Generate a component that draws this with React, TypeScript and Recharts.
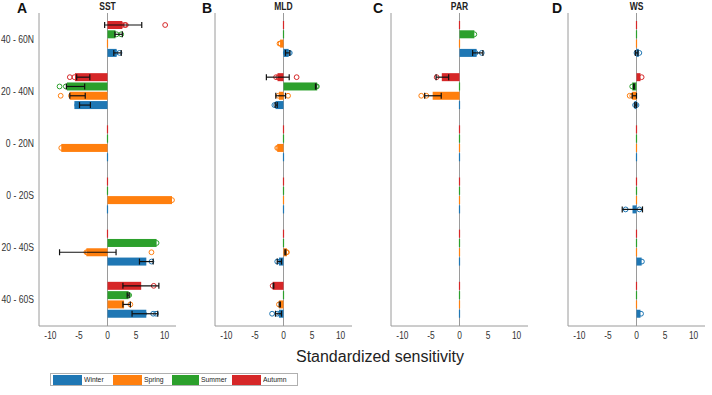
import React from 'react';
import { ComposedChart, Bar, XAxis, YAxis, ErrorBar, CartesianGrid } from 'recharts';

// ---------- data ----------
const regions = ['40 - 60N', '20 - 40N', '0 - 20N', '0 - 20S', '20 - 40S', '40 - 60S'];
const seasonNames = ['Winter', 'Spring', 'Summer', 'Autumn'];
const seasonKeys = ['winter', 'spring', 'summer', 'autumn'];
const seasonColors = ['#1f77b4', '#ff7f0e', '#2ca02c', '#d62728'];
const xTicks = [-10, -5, 0, 5, 10];
const xDomain = [-12, 12];
const panelLetters = ['A', 'B', 'C', 'D'];
const panelTitles = ['SST', 'MLD', 'PAR', 'WS'];
const xLabel = 'Standardized sensitivity';

// SST
const sstWinter = [1.6, -5.8, 0, 0, 6.8, 6.8];
const sstSpring = [0, -6.6, -8.1, 11.3, -3.7, 2.9];
const sstSummer = [1.4, -7.1, 0, 0, 8.6, 3.7];
const sstAutumn = [2.6, -5.7, 0, 0, 0, 5.9];
const sstWinterErr = [[1.1, 2.4], [-4.9, -3.0], null, null, [5.6, 8.0], [4.3, 8.8]];
const sstSpringErr = [null, [-6.6, -3.9], null, null, [-8.4, 1.5], [2.7, 4.0]];
const sstSummerErr = [[1.3, 2.6], [-7.2, -4.0], null, null, null, [3.45, 3.8]];
const sstAutumnErr = [[-0.5, 6.0], [-5.4, -3.1], null, null, null, [2.7, 9.0]];
const sstWinterPts = [[0.9, 1.4, 2.1], [-5.3, -4.5, -3.3, -2.1], [], [], [6.1, 7.7], [2.0, 6.4, 8.0, 8.5]];
const sstSpringPts = [[], [-8.2, -6.4, -5.0, -2.3], [-8.1], [11.3], [-3.7, -3.5, 7.7], [4.0]];
const sstSummerPts = [[1.6, 2.4], [-8.4, -7.3, -6.0, -4.5, -3.1], [], [], [8.6], [3.8, 3.6]];
const sstAutumnPts = [[1.5, 2.5, 3.0, 3.2, 10.1], [-6.6, -5.8, -4.9, -4.2, -3.5, -3.0], [], [], [], [8.1]];

// MLD
const mldWinter = [0.9, -1.4, 0, 0, -0.8, -0.8];
const mldSpring = [-0.6, -0.8, -1.1, 0, 0.6, -0.8];
const mldSummer = [0, 5.9, 0, 0, 0, 0];
const mldAutumn = [0, -1.05, 0, 0, 0, -1.9];
const mldWinterErr = [[0.35, 1.1], [-1.45, -1.1], null, null, [-1.1, -0.35], [-1.4, -0.35]];
const mldSpringErr = [null, [-1.35, 0.35], null, null, [0.25, 0.4], [-0.75, -0.55]];
const mldSummerErr = [null, [5.6, 5.7], null, null, null, null];
const mldAutumnErr = [null, [-3.0, 1.0], null, null, null, [-1.8, -1.7]];
const mldWinterPts = [[0.4, 0.9, 1.1], [-1.6, -1.3], [], [], [-1.1, -0.6], [-2.0, -1.1, -0.6]];
const mldSpringPts = [[-0.5, -0.7], [-0.9, -0.4, 0.8], [-1.1, -0.9], [], [0.5, 0.6], [-0.8]];
const mldSummerPts = [[], [5.85, 5.7], [], [], [], []];
const mldAutumnPts = [[], [-1.3, -0.9, 2.3], [], [], [], [-1.9]];

// PAR
const parWinter = [3.0, 0, 0, 0, 0, 0];
const parSpring = [0, -4.7, 0, 0, 0, 0];
const parSummer = [2.6, 0, 0, 0, 0, 0];
const parAutumn = [0, -3.1, 0, 0, 0, 0];
const parWinterErr = [[2.3, 4.1], null, null, null, null, null];
const parSpringErr = [null, [-6.1, -3.2], null, null, null, null];
const parSummerErr = [null, null, null, null, null, null];
const parAutumnErr = [null, [-4.1, -1.9], null, null, null, null];
const parWinterPts = [[2.8, 3.9], [], [], [], [], []];
const parSpringPts = [[], [-6.7, -5.8, -3.5], [], [], [], []];
const parSummerPts = [[2.6], [], [], [], [], []];
const parAutumnPts = [[], [-4.0, -2.3], [], [], [], []];

// WS
const wsWinter = [0.4, -0.35, 0, -0.7, 0.9, 0.7];
const wsSpring = [0, -0.75, 0, 0, 0, 0];
const wsSummer = [0, -0.75, 0, 0, 0, 0];
const wsAutumn = [0, 0.7, 0, 0, 0, 0];
const wsWinterErr = [[-0.2, 0.25], [-0.3, 0], null, [-2.5, 1.05], null, null];
const wsSpringErr = [null, [-0.75, 0], null, null, null, null];
const wsSummerErr = [null, [-0.5, -0.4], null, null, null, null];
const wsAutumnErr = [null, null, null, null, null, null];
const wsWinterPts = [[0, 0.5], [-0.25, 0], [], [-1.9, 0.5], [0.95], [0.8]];
const wsSpringPts = [[], [-1.2, -0.75], [], [], [], []];
const wsSummerPts = [[], [-0.75], [], [], [], []];
const wsAutumnPts = [[], [0.9], [], [], [], []];

// ---------- build rows ----------
function buildRows(vals: number[][], errs: any[][], pts: number[][][]) {
  return regions.map((region, i) => {
    const row: any = { region };
    seasonKeys.forEach((k, s) => {
      const v = vals[s][i];
      const e = errs[s][i];
      row[k] = v;
      row[k + 'Err'] = e ? [v - e[0], e[1] - v] : null;
      row[k + 'Pts'] = pts[s][i] || [];
    });
    return row;
  });
}

const panelRows = [
  buildRows([sstWinter, sstSpring, sstSummer, sstAutumn], [sstWinterErr, sstSpringErr, sstSummerErr, sstAutumnErr], [sstWinterPts, sstSpringPts, sstSummerPts, sstAutumnPts]),
  buildRows([mldWinter, mldSpring, mldSummer, mldAutumn], [mldWinterErr, mldSpringErr, mldSummerErr, mldAutumnErr], [mldWinterPts, mldSpringPts, mldSummerPts, mldAutumnPts]),
  buildRows([parWinter, parSpring, parSummer, parAutumn], [parWinterErr, parSpringErr, parSummerErr, parAutumnErr], [parWinterPts, parSpringPts, parSummerPts, parAutumnPts]),
  buildRows([wsWinter, wsSpring, wsSummer, wsAutumn], [wsWinterErr, wsSpringErr, wsSummerErr, wsAutumnErr], [wsWinterPts, wsSpringPts, wsSummerPts, wsAutumnPts]),
];

// ---------- style ----------
const FONT = '"Liberation Sans", Arial, sans-serif';
const AXIS = '#9a9a9a';
const TEXT = '#333333';
const PLOT_W = 137;
const YW = 39;
const PANEL_LEFT = [0, 176, 352, 529];

function XTick(props: any) {
  const { x, y, payload } = props;
  return (
    <g transform={`translate(${x},${y + 13}) scale(0.8,1)`}>
      <text x={0} y={0} textAnchor="middle" fontSize={10.5} fontFamily={FONT} fill={TEXT}>
        {payload.value}
      </text>
    </g>
  );
}

function YTick(props: any) {
  const { x, y, payload } = props;
  return (
    <g transform={`translate(${x},${y + 3.5}) scale(0.82,1)`}>
      <text x={0} y={0} textAnchor="end" fontSize={10.5} fontFamily={FONT} fill={TEXT}>
        {payload.value}
      </text>
    </g>
  );
}

function DotBar(props: any) {
  const { x, y, width, height, background, payload, color, ptsKey } = props;
  if (x == null || y == null) return null;
  const bx = background ? background.x : 0;
  const bw = background ? background.width : 1;
  const sx = (v: number) => bx + ((v - xDomain[0]) / (xDomain[1] - xDomain[0])) * bw;
  let x0 = Math.min(x, x + (width || 0));
  let w = Math.abs(width || 0);
  if (w < 1.2) {
    x0 = x0 + w / 2 - 0.6;
    w = 1.2;
  }
  const cy = y + height / 2;
  const pts: number[] = (payload && payload[ptsKey]) || [];
  return (
    <g>
      <rect x={x0} y={y} width={w} height={height} fill={color} />
      {pts.map((v, i) => (
        <circle key={i} cx={sx(v)} cy={cy} r={2.4} fill="none" stroke={color} strokeWidth={1} />
      ))}
    </g>
  );
}

// draw order top->bottom inside a band: Autumn, Summer, Spring, Winter
const drawOrder = [3, 2, 1, 0];

function Panel({ idx }: { idx: number }) {
  const rows = panelRows[idx];
  const showY = idx === 0;
  return (
    <div style={{ position: 'absolute', left: PANEL_LEFT[idx], top: 0 }}>
      <ComposedChart
        width={YW + PLOT_W + 1}
        height={346}
        data={rows}
        layout="vertical"
        margin={{ top: 13, right: 1, bottom: 0, left: 0 }}
        barSize={8}
        barGap={1.3}
      >
        <CartesianGrid horizontal={false} verticalValues={[0]} stroke={AXIS} strokeWidth={1} />
        <XAxis
          type="number"
          domain={xDomain}
          ticks={xTicks}
          allowDataOverflow
          height={20}
          tickLine={false}
          tickSize={0}
          tickMargin={0}
          axisLine={{ stroke: AXIS }}
          tick={<XTick />}
          interval={0}
        />
        <XAxis xAxisId="bm" type="number" domain={xDomain} ticks={xTicks} allowDataOverflow orientation="bottom" mirror tick={false} tickSize={4} tickLine={{ stroke: AXIS }} axisLine={false} height={0} />
        <XAxis xAxisId="t" type="number" domain={xDomain} ticks={xTicks} allowDataOverflow orientation="top" mirror tick={false} tickSize={4} tickLine={{ stroke: AXIS }} axisLine={{ stroke: AXIS }} height={0} />
        <YAxis
          type="category"
          dataKey="region"
          width={YW}
          tickLine={false}
          tickSize={0}
          tickMargin={5}
          axisLine={{ stroke: AXIS }}
          tick={showY ? <YTick /> : false}
          interval={0}
        />
        <YAxis yAxisId="lm" type="category" dataKey="region" orientation="left" mirror tick={false} tickSize={4} tickLine={{ stroke: AXIS }} axisLine={false} width={0} interval={0} />
        <YAxis yAxisId="r" type="category" dataKey="region" orientation="right" mirror tick={false} tickSize={4} tickLine={{ stroke: AXIS }} axisLine={{ stroke: AXIS }} width={0} interval={0} />
        {drawOrder.map((s) => (
          <Bar
            key={seasonKeys[s]}
            dataKey={seasonKeys[s]}
            name={seasonNames[s]}
            fill={seasonColors[s]}
            isAnimationActive={false}
            shape={(p: any) => <DotBar {...p} color={seasonColors[s]} ptsKey={seasonKeys[s] + 'Pts'} />}
          >
            <ErrorBar
              dataKey={(d: any) => d[seasonKeys[s] + 'Err']}
              direction="x"
              width={3}
              stroke="#111"
              strokeWidth={1.2}
              isAnimationActive={false}
            />
          </Bar>
        ))}
      </ComposedChart>
      <div
        style={{
          position: 'absolute',
          left: YW,
          width: PLOT_W,
          top: 2,
          textAlign: 'center',
          fontFamily: FONT,
          fontWeight: 'bold',
          fontSize: 10,
          color: '#222',
          lineHeight: '10px',
          transform: 'scaleX(0.85)',
        }}
      >
        {panelTitles[idx]}
      </div>
    </div>
  );
}

const letterLeft = [17, 202, 373, 552];

export default function App() {
  return (
    <div
      style={{
        position: 'absolute',
        left: 0,
        top: 0,
        width: 712,
        height: 395,
        background: '#fff',
        overflow: 'hidden',
        fontFamily: FONT,
      }}
    >
      {panelLetters.map((l, i) => (
        <div
          key={l}
          style={{
            position: 'absolute',
            left: letterLeft[i],
            top: 1,
            fontFamily: FONT,
            fontWeight: 'bold',
            fontSize: 14,
            lineHeight: '14px',
            color: '#111',
          }}
        >
          {l}
        </div>
      ))}
      {[0, 1, 2, 3].map((i) => (
        <Panel key={i} idx={i} />
      ))}
      <div
        style={{
          position: 'absolute',
          left: 230,
          width: 300,
          top: 348,
          textAlign: 'center',
          fontFamily: FONT,
          fontSize: 16,
          lineHeight: '18px',
          color: '#222',
        }}
      >
        {xLabel}
      </div>
      <div
        style={{
          position: 'absolute',
          left: 50,
          top: 373,
          width: 248,
          height: 13,
          border: '1px solid #b0b0b0',
          display: 'flex',
          alignItems: 'center',
          paddingLeft: 2,
          boxSizing: 'border-box',
        }}
      >
        {seasonNames.map((n, i) => (
          <div key={n} style={{ display: 'flex', alignItems: 'center', width: 59.5 }}>
            <div style={{ width: 29, height: 10, background: seasonColors[i] }} />
            <span style={{ fontSize: 8, fontFamily: FONT, color: '#222', marginLeft: 2, display: 'inline-block', transform: 'scaleX(0.85)', transformOrigin: 'left center' }}>{n}</span>
          </div>
        ))}
      </div>
    </div>
  );
}
